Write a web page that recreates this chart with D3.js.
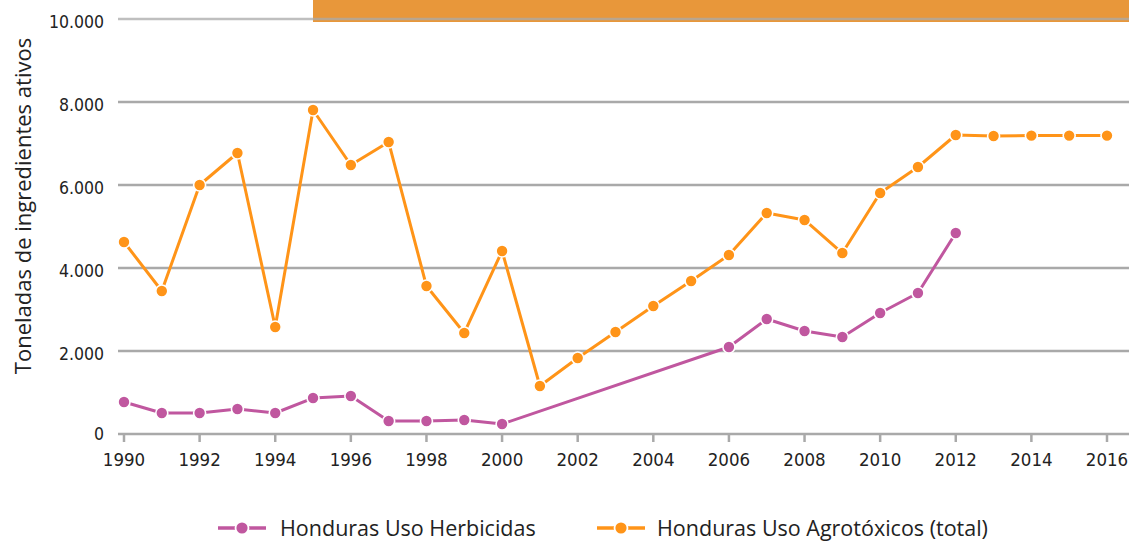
<!DOCTYPE html>
<html>
<head>
<meta charset="utf-8">
<script src="https://cdn.jsdelivr.net/npm/d3@7"></script>
<style>
  html, body { margin: 0; padding: 0; background: #fff; }
  svg { display: block; }
</style>
</head>
<body>
<svg id="chart" width="1129" height="544"></svg>
<script>
const years = [1990,1991,1992,1993,1994,1995,1996,1997,1998,1999,2000,2001,2002,2003,2004,2005,2006,2007,2008,2009,2010,2011,2012,2013,2014,2015,2016];
const agrotoxicos = [4627,3446,6000,6771,2578,7807,6482,7036,3566,2434,4410,1157,1831,2458,3084,3687,4313,5325,5157,4361,5807,6434,7205,7181,7190,7190,7190];
const herbicidas = [771,506,506,602,506,867,916,313,313,337,241,null,null,null,null,null,2096,2771,2482,2337,2916,3398,4843,null,null,null,null];
const yTicks = [0,2000,4000,6000,8000,10000];
const xTicks = [1990,1992,1994,1996,1998,2000,2002,2004,2006,2008,2010,2012,2014,2016];
const seriesNames = ["Honduras Uso Herbicidas","Honduras Uso Agrotóxicos (total)"];
const colors = ["#c0579f","#ff9418"];

const svg = d3.select("#chart");
const x = d3.scaleLinear().domain([1990,2016]).range([124,1107]);
const y = d3.scaleLinear().domain([0,10000]).range([434,19]);
const fmt = v => d3.format(",")(v).replace(/,/g,".");

// top orange banner
svg.append("rect").attr("x",313).attr("y",0).attr("width",1129-313).attr("height",22).attr("fill","#e8973a");

// gridlines
svg.append("g").selectAll("line").data(yTicks).join("line")
  .attr("x1",118).attr("x2",1129)
  .attr("y1",d=>y(d)).attr("y2",d=>y(d))
  .attr("stroke","#a9a9a9").attr("stroke-width",2.5).attr("stroke-opacity",d=>d===10000?0.75:1);

// y labels
svg.append("g").selectAll("text").data(yTicks).join("text")
  .attr("x",104).attr("y",d=>y(d)+ (d===0?0:3)).attr("dy","0.35em")
  .attr("text-anchor","end")
  .attr("font-family","'DejaVu Sans Condensed','DejaVu Sans',sans-serif")
  .attr("font-size",17.5).attr("fill","#222")
  .text(d=>fmt(d));

// x ticks
svg.append("g").selectAll("line").data(xTicks).join("line")
  .attr("x1",d=>x(d)).attr("x2",d=>x(d)).attr("y1",434).attr("y2",442)
  .attr("stroke","#a9a9a9").attr("stroke-width",2.5);
svg.append("g").selectAll("text").data(xTicks).join("text")
  .attr("x",d=>x(d)).attr("y",466)
  .attr("text-anchor","middle")
  .attr("font-family","'DejaVu Sans Condensed','DejaVu Sans',sans-serif")
  .attr("font-size",18.5).attr("fill","#222")
  .text(d=>d);

// y title
svg.append("text")
  .attr("transform","translate(31,206) rotate(-90)")
  .attr("text-anchor","middle")
  .attr("font-family","'Open Sans',sans-serif")
  .attr("font-size",22).attr("fill","#222")
  .text("Toneladas de ingredientes ativos");

// series
const series = [
  {name:seriesNames[0], values:herbicidas, color:colors[0]},
  {name:seriesNames[1], values:agrotoxicos, color:colors[1]}
];

series.forEach(s => {
  const pts = years.map((yr,i)=>({yr, v:s.values[i]})).filter(d=>d.v!=null);
  svg.append("path").datum(pts)
    .attr("d", d3.line().x(d=>x(d.yr)).y(d=>y(d.v)))
    .attr("fill","none").attr("stroke",s.color).attr("stroke-width",3).attr("stroke-linejoin","round");
  svg.append("g").selectAll("circle").data(pts).join("circle")
    .attr("cx",d=>x(d.yr)).attr("cy",d=>y(d.v)).attr("r",6)
    .attr("fill",s.color).attr("stroke","#fff").attr("stroke-width",1.6);
});

// legend
const legend = [
  {name:seriesNames[0], color:colors[0], x0:218, tx:280},
  {name:seriesNames[1], color:colors[1], x0:597, tx:657}
];
legend.forEach(l => {
  svg.append("line").attr("x1",l.x0).attr("x2",l.x0+48).attr("y1",528).attr("y2",528)
    .attr("stroke",l.color).attr("stroke-width",3.5);
  svg.append("circle").attr("cx",l.x0+24).attr("cy",528).attr("r",6.5)
    .attr("fill",l.color).attr("stroke","#fff").attr("stroke-width",1.8);
  svg.append("text").attr("x",l.tx).attr("y",536)
    .attr("font-family","'Open Sans',sans-serif").attr("font-size",21.5).attr("fill","#222")
    .text(l.name);
});
</script>
</body>
</html>
